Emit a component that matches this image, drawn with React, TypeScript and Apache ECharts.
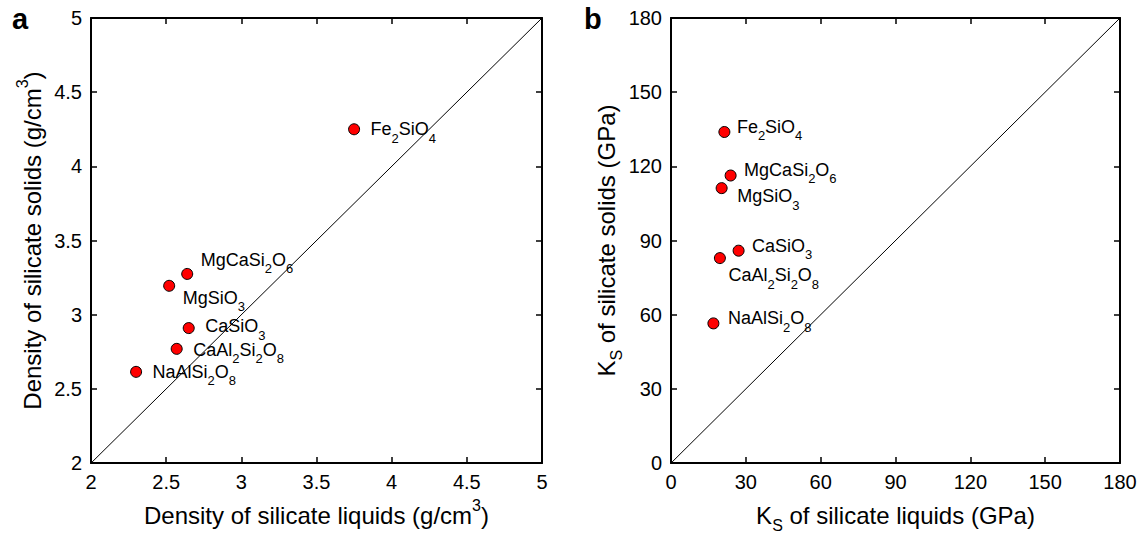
import React, { useEffect, useRef } from "react";
import * as echarts from "echarts";

const compounds = ["Fe2SiO4", "MgCaSi2O6", "MgSiO3", "CaSiO3", "CaAl2Si2O8", "NaAlSi2O8"];
const densityLiquid = [3.75, 2.64, 2.52, 2.65, 2.57, 2.3];
const densitySolid = [4.25, 3.275, 3.195, 2.91, 2.77, 2.615];
const ksLiquid = [21.4, 23.9, 20.3, 27.1, 19.6, 17.0];
const ksSolid = [133.9, 116.3, 111.2, 85.9, 82.9, 56.5];
const densityTicks = { min: 2, max: 5, interval: 0.5 };
const ksTicks = { min: 0, max: 180, interval: 30 };

// label placement (pixels relative to the dot centre)
const offsetsA = [[16, 0], [13, -14], [13, 12], [16, -2], [16, 1], [16, 0]];
const offsetsB = [[12, -5], [13, -6], [15, 8], [13, -5], [8, 17], [14, -5]];

const FONT = "'Liberation Sans', Arial, Helvetica, sans-serif";
const SYM = 11;

function formula(f: string): string {
  return f.replace(/(\D+)/g, "{m|$1}").replace(/(\d)/g, "{s|$1}");
}

const labelRich = {
  m: { fontSize: 18, lineHeight: 18, fontFamily: FONT, color: "#000" },
  s: { fontSize: 13, lineHeight: 1, padding: [18, 0, 0, 0], fontFamily: FONT, color: "#000" },
};

const titleRich = {
  t: { fontSize: 24, lineHeight: 24, fontFamily: FONT, color: "#000" },
  sup: { fontSize: 16, lineHeight: 16, padding: [0, 0, 20, 0], fontFamily: FONT, color: "#000" },
  sub: { fontSize: 16, lineHeight: 16, padding: [20, 0, 0, 0], fontFamily: FONT, color: "#000" },
};

function points(xs: number[], ys: number[], offs: number[][]) {
  return xs.map((x, i) => ({
    value: [x, ys[i]],
    name: compounds[i],
    label: { offset: [offs[i][0] - SYM / 2, offs[i][1]] },
  }));
}

function axisCommon(gridIndex: number, ticks: any, position: string, showLabel: boolean) {
  return {
    type: "value",
    gridIndex,
    position,
    min: ticks.min,
    max: ticks.max,
    interval: ticks.interval,
    axisLine: { show: true, onZero: false, lineStyle: { color: "#000", width: 2 } },
    axisTick: { show: true, inside: true, length: 6, lineStyle: { color: "#000", width: 1.5 } },
    axisLabel: {
      show: showLabel,
      fontSize: 20,
      color: "#000",
      fontFamily: FONT,
      margin: 9,
      showMinLabel: true,
      showMaxLabel: true,
    },
    splitLine: { show: false },
  };
}

export default function App() {
  const ref = useRef<HTMLDivElement>(null);
  useEffect(() => {
    if (!ref.current) return;
    const chart = echarts.init(ref.current, null, { renderer: "svg" });
    const axName = (text: string, gap: number) => ({
      name: text,
      nameLocation: "middle",
      nameGap: gap,
      nameTextStyle: { rich: titleRich, fontSize: 24, fontFamily: FONT, color: "#000" },
    });
    const scatterLabel = {
      show: true,
      position: "right",
      distance: 0,
      formatter: (p: any) => formula(p.name),
      rich: labelRich,
    };
    const option: any = {
      animation: false,
      backgroundColor: "#fff",
      grid: [
        { left: 91, top: 18, width: 451, height: 450 },
        { left: 671, top: 18, width: 449, height: 450 },
      ],
      xAxis: [
        { ...axisCommon(0, densityTicks, "bottom", true), ...axName("{t|Density of silicate liquids (g/cm}{sup|3}{t|)}", 31) },
        { ...axisCommon(0, densityTicks, "top", false) },
        { ...axisCommon(1, ksTicks, "bottom", true), ...axName("{t|K}{sub|S}{t| of silicate liquids (GPa)}", 31) },
        { ...axisCommon(1, ksTicks, "top", false) },
      ],
      yAxis: [
        { ...axisCommon(0, densityTicks, "left", true), ...axName("{t|Density of silicate solids (g/cm}{sup|3}{t|)}", 47) },
        { ...axisCommon(0, densityTicks, "right", false) },
        { ...axisCommon(1, ksTicks, "left", true), ...axName("{t|K}{sub|S}{t| of silicate solids (GPa)}", 47) },
        { ...axisCommon(1, ksTicks, "right", false) },
      ],
      series: [
        {
          type: "line",
          xAxisIndex: 0,
          yAxisIndex: 0,
          data: [[densityTicks.min, densityTicks.min], [densityTicks.max, densityTicks.max]],
          showSymbol: false,
          symbol: "none",
          lineStyle: { color: "#000", width: 1 },
          silent: true,
        },
        {
          type: "line",
          xAxisIndex: 2,
          yAxisIndex: 2,
          data: [[ksTicks.min, ksTicks.min], [ksTicks.max, ksTicks.max]],
          showSymbol: false,
          symbol: "none",
          lineStyle: { color: "#000", width: 1 },
          silent: true,
        },
        {
          type: "scatter",
          xAxisIndex: 0,
          yAxisIndex: 0,
          symbol: "circle",
          symbolSize: SYM,
          itemStyle: { color: "#ff0000", borderColor: "#000", borderWidth: 1, opacity: 1 },
          label: scatterLabel,
          data: points(densityLiquid, densitySolid, offsetsA),
        },
        {
          type: "scatter",
          xAxisIndex: 2,
          yAxisIndex: 2,
          symbol: "circle",
          symbolSize: SYM,
          itemStyle: { color: "#ff0000", borderColor: "#000", borderWidth: 1, opacity: 1 },
          label: scatterLabel,
          data: points(ksLiquid, ksSolid, offsetsB),
        },
      ],
      graphic: [
        {
          type: "text",
          left: 12,
          top: 4,
          style: { text: "a", fontSize: 29, fontWeight: "bold", fontFamily: FONT, fill: "#000" },
        },
        {
          type: "text",
          left: 584,
          top: 4,
          style: { text: "b", fontSize: 29, fontWeight: "bold", fontFamily: FONT, fill: "#000" },
        },
      ],
    };
    chart.setOption(option);
    return () => chart.dispose();
  }, []);
  return (
    <div
      ref={ref}
      style={{ position: "fixed", left: 0, top: 0, width: 1142, height: 538, background: "#fff" }}
    />
  );
}
